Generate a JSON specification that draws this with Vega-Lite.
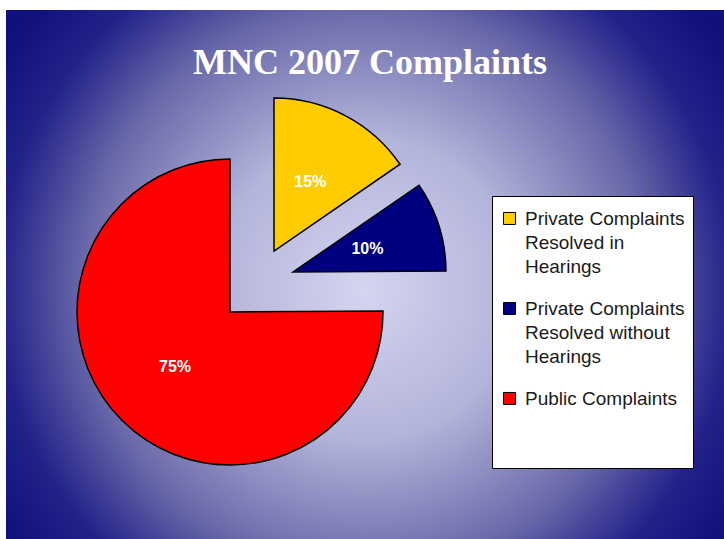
{
  "$schema": "https://vega.github.io/schema/vega-lite/v6.json",
  "width": 718,
  "height": 529,
  "autosize": "none",
  "padding": {"left": 6, "top": 10, "right": 0, "bottom": 0},
  "background": "white",
  "config": {"view": {"stroke": null}},
  "title": {
    "text": "MNC 2007 Complaints",
    "font": "Liberation Serif",
    "fontSize": 36,
    "fontWeight": "bold",
    "color": "white",
    "anchor": "middle",
    "baseline": "alphabetic",
    "offset": -65,
    "dx": 5,
    "dy": 35
  },
  "data": {
    "values": [
      {"category": "Private Complaints Resolved in Hearings", "share": 0.154},
      {"category": "Private Complaints Resolved without Hearings", "share": 0.095},
      {"category": "Public Complaints", "share": 0.751}
    ]
  },
  "layer": [
    {
      "data": {"values": [{}]},
      "mark": {
        "type": "rect",
        "fill": {
          "gradient": "radial",
          "x1": 0.5, "y1": 0.52, "r1": 0,
          "x2": 0.5, "y2": 0.52, "r2": 0.6,
          "stops": [
            {"offset": 0, "color": "#d4d5ef"},
            {"offset": 0.35, "color": "#b3b4da"},
            {"offset": 0.65, "color": "#6a6aaa"},
            {"offset": 0.85, "color": "#22228a"},
            {"offset": 1, "color": "#11117d"}
          ]
        }
      },
      "encoding": {
        "x": {"value": 0},
        "x2": {"value": "width"},
        "y": {"value": 0},
        "y2": {"value": "height"}
      }
    },
    {
      "mark": {
        "type": "arc",
        "radius": 153,
        "stroke": "black",
        "strokeWidth": 1.5,
        "x": {"expr": "224 + (datum.category == 'Public Complaints' ? 0 : indexof(datum.category, 'without') >= 0 ? 63 : 44)"},
        "y": {"expr": "302 + (datum.category == 'Public Complaints' ? 0 : indexof(datum.category, 'without') >= 0 ? -40 : -61)"}
      },
      "encoding": {
        "theta": {"field": "share", "type": "quantitative", "stack": true},
        "order": {"field": "category", "sort": "ascending"},
        "color": {
          "field": "category",
          "type": "nominal",
          "scale": {
            "domain": ["Private Complaints Resolved in Hearings", "Private Complaints Resolved without Hearings", "Public Complaints"],
            "range": ["#ffcc00", "#000080", "#ff0000"]
          },
          "legend": {
            "orient": "none",
            "legendX": 486,
            "legendY": 186,
            "title": " ",
            "titleOrient": "bottom",
            "titlePadding": 43,
            "titleFontSize": 8,
            "fillColor": "white",
            "strokeColor": "black",
            "padding": 8,
            "symbolType": "M-1,-0.17L1,-0.17L1,1.83L-1,1.83Z",
            "symbolSize": 144,
            "symbolStrokeColor": "black",
            "symbolStrokeWidth": 1,
            "symbolOpacity": 1,
            "labelFont": "Liberation Sans",
            "labelFontSize": 19,
            "labelColor": "#1a1a1a",
            "labelLimit": 400,
            "labelOffset": 6,
            "rowPadding": 17,
            "labelExpr": "datum.label == 'Public Complaints' ? 'Public Complaints' : indexof(datum.label, 'without') >= 0 ? ['Private Complaints', 'Resolved without', 'Hearings'] : ['Private Complaints', 'Resolved in', 'Hearings']",
            "encode": {"labels": {"update": {"lineHeight": {"value": 24}, "dy": {"value": 5}}}}
          }
        }
      }
    },
    {
      "mark": {
        "type": "text",
        "radius": 78,
        "font": "Liberation Sans",
        "fontSize": 16,
        "fontWeight": "bold",
        "fill": "white",
        "x": {"expr": "224 + (datum.category == 'Public Complaints' ? 0 : indexof(datum.category, 'without') >= 0 ? 63 : 44)"},
        "y": {"expr": "302 + (datum.category == 'Public Complaints' ? 0 : indexof(datum.category, 'without') >= 0 ? -40 : -61)"}
      },
      "encoding": {
        "theta": {"field": "share", "type": "quantitative", "stack": true},
        "order": {"field": "category", "sort": "ascending"},
        "text": {"field": "share", "type": "quantitative", "format": ".0%"}
      }
    }
  ]
}
